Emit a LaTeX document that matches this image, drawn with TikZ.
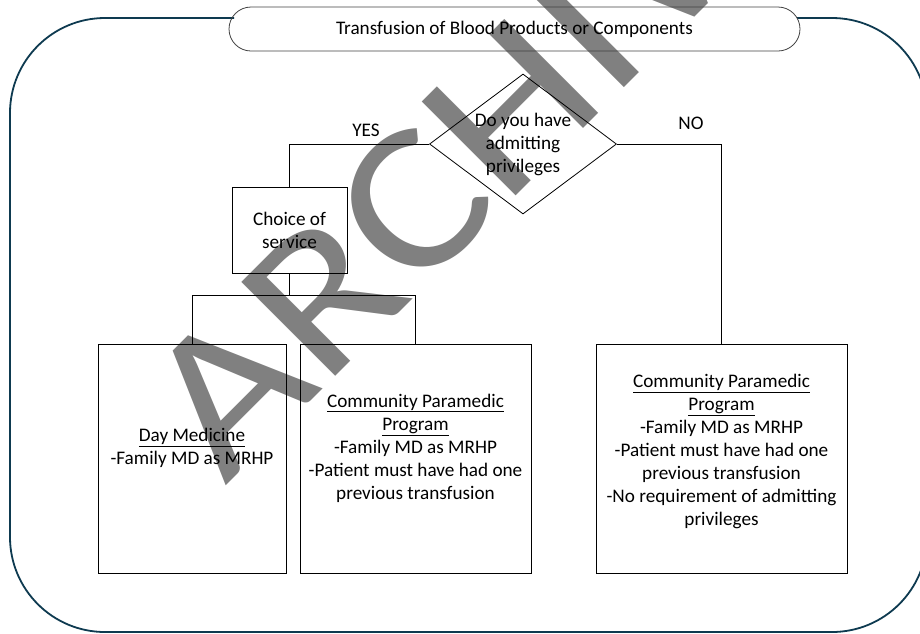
\documentclass[tikz,border=0pt]{standalone}
\usepackage{fontspec}
\usepackage{graphicx}
\setmainfont{Carlito}
\usetikzlibrary{shapes.geometric,shapes.misc}
\definecolor{framecol}{RGB}{14,58,80}
\definecolor{wmcol}{RGB}{128,128,128}
\definecolor{titleline}{RGB}{64,64,64}
\begin{document}
\begin{tikzpicture}[x=1pt,y=-1pt,line width=0.8pt,
  txt/.style={font=\fontsize{19.2}{23}\selectfont, align=center, inner sep=0pt},
  boxnode/.style={draw, inner sep=0pt},
  conn/.style={draw, line width=0.8pt}]
\useasboundingbox (0,0) rectangle (920,633);
\clip (0,0) rectangle (920,633);
% watermark
\node[rotate=45, text=wmcol, inner sep=0pt] (wm) at (534,84) {\scalebox{1.16}[1]{\fontsize{207}{207}\selectfont ARCHIVED}};
% outer frame
\draw[framecol, line width=1.8pt, rounded corners=95pt] (234,18) -- (10,18) -- (10,632) -- (927,632) -- (927,18) -- (797,18);
% title
\node[draw=titleline, rounded rectangle, minimum width=571pt, minimum height=44pt, inner sep=0pt, txt] (title) at (514.5,29) {Transfusion of Blood Products or Components};
% decision
\node[draw, diamond, minimum width=187pt, minimum height=140pt, inner sep=0pt] (q) at (523,144) {};
\node[txt] (qt) at (523,144) {Do you have\\admitting\\privileges};
% choice
\node[boxnode, minimum width=115pt, minimum height=86pt] (choice) at (289.5,230) {};
\node[txt] (choicet) at (289.5,230) {Choice of\\service};
% bottom boxes
\node[boxnode, minimum width=188pt, minimum height=229pt] (day) at (192,458.5) {};
\node[boxnode, minimum width=231pt, minimum height=229pt] (mid) at (415.5,458.5) {};
\node[boxnode, minimum width=251pt, minimum height=229pt] (right) at (721.5,458.5) {};
\node[txt] (dayt) at (192,448) {\underline{Day Medicine}\\-Family MD as MRHP};
\node[txt] (midt) at (415.5,448) {\underline{Community Paramedic}\\\underline{Program}\\-Family MD as MRHP\\-Patient must have had one\\previous transfusion};
\node[txt] (rightt) at (721.5,451.5) {\underline{Community Paramedic}\\\underline{Program}\\-Family MD as MRHP\\-Patient must have had one\\previous transfusion\\-No requirement of admitting\\privileges};
% labels
\node[txt] (yes) at (366,130) {YES};
\node[txt] (no) at (691,123) {NO};
% connectors
\coordinate (j) at (289.5,295);
\draw[conn] (q.west) -| (choice.north);
\draw[conn] (q.east) -| (right.north);
\draw[conn] (choice.south) -- (j);
\draw[conn] (day.north) -- (day.north |- j) -- (mid.north |- j) -- (mid.north);
\end{tikzpicture}
\end{document}
